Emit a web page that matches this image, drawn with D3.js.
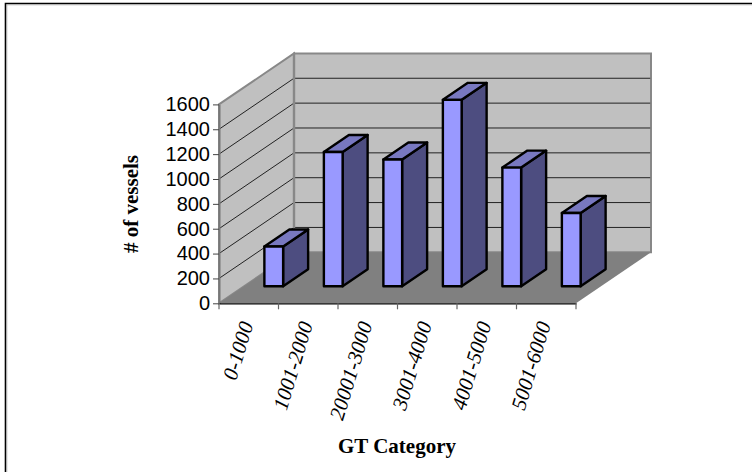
<!DOCTYPE html>
<html>
<head>
<meta charset="utf-8">
<script src="https://cdn.jsdelivr.net/npm/d3@7/dist/d3.min.js"></script>
<style>
html, body { margin: 0; padding: 0; background: #fff; }
svg { display: block; }
</style>
</head>
<body>
<svg id="chart" width="752" height="472"></svg>
<script>
const categories = ["0-1000", "1001-2000", "20001-3000", "3001-4000", "4001-5000", "5001-6000"];
const vessels = [320, 1080, 1020, 1500, 955, 590];
const yTickValues = [0, 200, 400, 600, 800, 1000, 1200, 1400, 1600];

const svg = d3.select("#chart");
const x = d3.scaleBand().domain(categories).range([219, 576]).paddingInner(0).paddingOuter(0);
const y = d3.scaleLinear().domain([0, 1600]).range([303.3, 104.4]);
const depth = { dx: 75, dy: -51 };

// Oblique projection: t is the depth into the chart box (0 = front, 1 = back).
const px = (xv, t) => xv + depth.dx * t;
const py = (yv, t) => yv + depth.dy * t;
const poly = pts => pts.map(p => p.join(",")).join(" ");

const xL = x.range()[0], xR = x.range()[1];
const yB = y(0), yT = y(1600);

// Chart frame: only the top and left edges are drawn.
svg.append("path")
  .attr("d", "M5.5,472V3.5H752")
  .attr("fill", "none").attr("stroke", "#000").attr("stroke-width", 1.6);
svg.append("path")
  .attr("d", "M6.8,472V4.8H752")
  .attr("fill", "none").attr("stroke", "#aaa").attr("stroke-width", 0.8);

// Back wall
svg.append("polygon")
  .attr("points", poly([[px(xL,1),py(yB,1)],[px(xR,1),py(yB,1)],[px(xR,1),py(yT,1)],[px(xL,1),py(yT,1)]]))
  .attr("fill", "#c0c0c0").attr("stroke", "#888").attr("stroke-width", 2);

// Side wall
svg.append("polygon")
  .attr("points", poly([[xL,yB],[px(xL,1),py(yB,1)],[px(xL,1),py(yT,1)],[xL,yT]]))
  .attr("fill", "#c0c0c0").attr("stroke", "#888").attr("stroke-width", 2);

// Gridlines wrap from the side wall on to the back wall.
const gridTicks = yTickValues.filter(v => v > 0 && v < 1600);
svg.append("g").selectAll("path").data(gridTicks).join("path")
  .attr("d", v => `M${xL},${y(v)}L${px(xL,1)},${py(y(v),1)}H${px(xR,1)}`)
  .attr("fill", "none").attr("stroke", "#222").attr("stroke-width", 1);

// Re-stroke the wall corner over the gridline joins
svg.append("line")
  .attr("x1", px(xL,1)).attr("x2", px(xL,1)).attr("y1", py(yT,1)).attr("y2", py(yB,1))
  .attr("stroke", "#888").attr("stroke-width", 2.4);
svg.append("line")
  .attr("x1", px(xR,1)).attr("x2", px(xR,1)).attr("y1", py(yT,1)).attr("y2", py(yB,1))
  .attr("stroke", "#888").attr("stroke-width", 1.6);

// Floor
svg.append("polygon")
  .attr("points", poly([[xL,yB],[xR,yB],[px(xR,1),py(yB,1)],[px(xL,1),py(yB,1)]]))
  .attr("fill", "#808080");

// Bars sit in the middle third of the floor depth.
const barWidth = x.bandwidth() * 0.315;
const tFront = 1 / 3, tBack = 2 / 3;
const bars = svg.append("g").selectAll("g")
  .data(categories.map((c, i) => ({ c, v: vessels[i] })))
  .join("g")
  .attr("stroke", "#000").attr("stroke-width", 2.4).attr("stroke-linejoin", "round");

const left = d => x(d.c) + x.bandwidth() / 2 - barWidth / 2;
const right = d => left(d) + barWidth;

bars.append("polygon") // side face
  .attr("fill", "#4d4d80")
  .attr("points", d => poly([
    [px(right(d),tFront), py(yB,tFront)], [px(right(d),tBack), py(yB,tBack)],
    [px(right(d),tBack), py(y(d.v),tBack)], [px(right(d),tFront), py(y(d.v),tFront)]
  ]));
bars.append("polygon") // top face
  .attr("fill", "#7878c0")
  .attr("points", d => poly([
    [px(left(d),tFront), py(y(d.v),tFront)], [px(right(d),tFront), py(y(d.v),tFront)],
    [px(right(d),tBack), py(y(d.v),tBack)], [px(left(d),tBack), py(y(d.v),tBack)]
  ]));
bars.append("polygon") // front face
  .attr("fill", "#9999ff")
  .attr("points", d => poly([
    [px(left(d),tFront), py(yB,tFront)], [px(right(d),tFront), py(yB,tFront)],
    [px(right(d),tFront), py(y(d.v),tFront)], [px(left(d),tFront), py(y(d.v),tFront)]
  ]));

// Value axis
const yAxis = svg.append("g").attr("transform", `translate(${xL},0)`)
  .call(d3.axisLeft(y).tickValues(yTickValues).tickFormat(d3.format("d")).tickSize(6).tickSizeOuter(0).tickPadding(3));
yAxis.select(".domain").attr("stroke", "#777").attr("stroke-width", 2);
yAxis.selectAll(".tick line").attr("stroke", "#444");
yAxis.selectAll("text")
  .attr("font-family", "Liberation Sans, Arial, sans-serif")
  .attr("font-size", 20).attr("fill", "#000");

// Category axis
const xAxis = svg.append("g").attr("transform", `translate(0,${yB})`)
  .call(d3.axisBottom(x).tickSizeInner(0).tickSizeOuter(0).tickFormat(""));
xAxis.select(".domain").attr("stroke", "#000").attr("stroke-width", 1.2);
xAxis.selectAll(".tick").remove();
svg.append("g").selectAll("line")
  .data(categories.map(c => x(c)).concat(xR))
  .join("line")
  .attr("x1", d => d).attr("x2", d => d)
  .attr("y1", yB).attr("y2", yB + 6)
  .attr("stroke", "#666").attr("stroke-width", 1.2);

// Slanted category labels, anchored at their upper end
svg.append("g").selectAll("text").data(categories).join("text")
  .attr("transform", c => `translate(${x(c) + 34.5},${yB + 21}) rotate(-73)`)
  .attr("text-anchor", "end")
  .attr("font-family", "Liberation Serif, Times New Roman, serif")
  .attr("font-style", "italic")
  .attr("font-size", 21)
  .attr("fill", "#000")
  .text(c => c);

// Axis titles
svg.append("text")
  .attr("x", 397).attr("y", 453).attr("text-anchor", "middle")
  .attr("font-family", "Liberation Serif, Times New Roman, serif")
  .attr("font-weight", "bold").attr("font-size", 21).attr("fill", "#000")
  .text("GT Category");
svg.append("text")
  .attr("transform", "translate(138,204) rotate(-90)").attr("text-anchor", "middle")
  .attr("font-family", "Liberation Serif, Times New Roman, serif")
  .attr("font-weight", "bold").attr("font-size", 21).attr("fill", "#000")
  .text("# of vessels");
</script>
</body>
</html>
